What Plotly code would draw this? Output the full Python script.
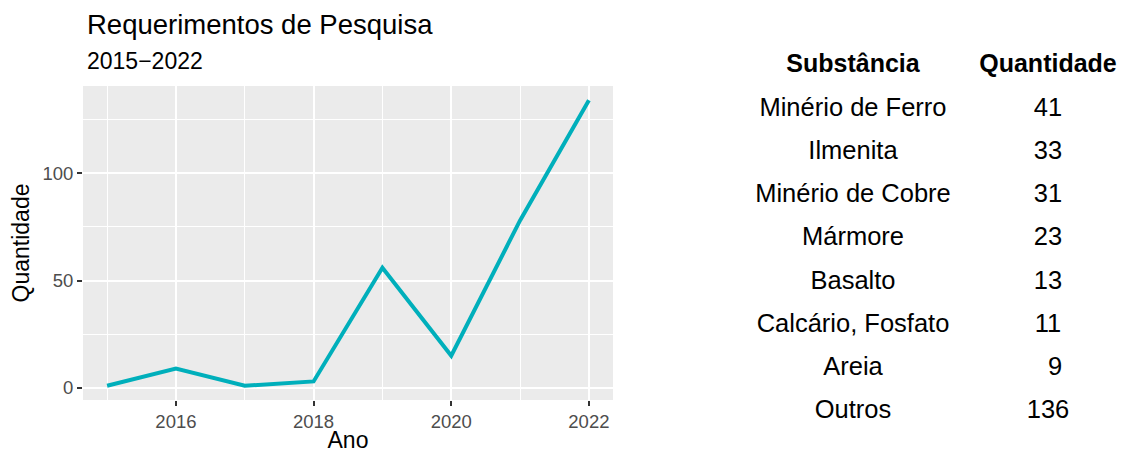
import plotly.graph_objects as go

# Requerimentos por ano
anos = [2015, 2016, 2017, 2018, 2019, 2020, 2021, 2022]
quantidade = [1, 9, 1, 3, 56, 15, 78, 134]

# Tabela por substância
substancias = ["Minério de Ferro", "Ilmenita", "Minério de Cobre", "Mármore",
               "Basalto", "Calcário, Fosfato", "Areia", "Outros"]
qtd_substancia = [41, 33, 31, 23, 13, 11, 9, 136]
cabecalho = ["Substância", "Quantidade"]

font = "Liberation Sans, Arial, sans-serif"
line_color = "#00AFBB"
W, H = 1122, 453

fig = go.Figure()

fig.add_trace(go.Scatter(
    x=anos, y=quantidade, mode="lines",
    line=dict(color=line_color, width=4),
    showlegend=False, hoverinfo="x+y",
))

# table as text on its own (hidden) axes
rows = [-(i + 1) for i in range(len(substancias))]
table_font = dict(size=25.5, color="black", family=font)
fig.add_trace(go.Scatter(
    x=[0] * len(substancias), y=rows, mode="text",
    text=substancias, textposition="middle center", textfont=table_font,
    xaxis="x2", yaxis="y2", showlegend=False, hoverinfo="skip",
))
fig.add_trace(go.Scatter(
    x=[1] * len(qtd_substancia), y=rows, mode="text",
    text=[str(q).rjust(2, "\u2007") for q in qtd_substancia],
    textposition="middle center", textfont=table_font,
    xaxis="x2", yaxis="y2", showlegend=False, hoverinfo="skip",
))
fig.add_trace(go.Scatter(
    x=[0, 1], y=[0, 0], mode="text",
    text=["<b>%s</b>" % h for h in cabecalho],
    textposition="middle center", textfont=dict(size=25, color="black", family=font),
    xaxis="x2", yaxis="y2", showlegend=False, hoverinfo="skip",
))

axis_common = dict(
    ticks="outside", ticklen=5, tickwidth=1.5, tickcolor="#333333",
    tickfont=dict(size=18.5, color="#4D4D4D"),
    showgrid=True, gridcolor="white", gridwidth=1.8,
    zeroline=False, showline=False, automargin=False,
)

fig.update_layout(
    width=W, height=H,
    margin=dict(l=0, r=0, t=0, b=0),
    paper_bgcolor="white",
    plot_bgcolor="white",
    font=dict(family=font, color="black"),
    xaxis=dict(
        domain=[83 / W, 613 / W],
        range=[2014.65, 2022.35],
        tick0=2016, dtick=2,
        minor=dict(tick0=2015, dtick=1, showgrid=True, gridcolor="white", gridwidth=0.9),
        title=dict(text="Ano", font=dict(size=23), standoff=4),
        **axis_common,
    ),
    yaxis=dict(
        domain=[(H - 400) / H, (H - 86) / H],
        range=[-5.65, 140.65],
        tick0=0, dtick=50,
        minor=dict(tick0=25, dtick=50, showgrid=True, gridcolor="white", gridwidth=0.9),
        title=dict(text="Quantidade", font=dict(size=23), standoff=6),
        **axis_common,
    ),
    xaxis2=dict(domain=[700 / W, 1], range=[-0.7846, 1.3795],
                visible=False, anchor="y2"),
    yaxis2=dict(domain=[0, 1], range=[-8.948, 1.526], visible=False, anchor="x2"),
    shapes=[dict(type="rect", xref="x domain", yref="y domain",
                 x0=0, x1=1, y0=0, y1=1, fillcolor="#EBEBEB",
                 line=dict(width=0), layer="below")],
    annotations=[
        dict(text="Requerimentos de Pesquisa", xref="paper", yref="paper",
             x=85 / W, y=(H - 25) / H, xanchor="left", yanchor="middle",
             showarrow=False, font=dict(size=27.5, color="black")),
        dict(text="2015\u22122022", xref="paper", yref="paper",
             x=85 / W, y=(H - 61) / H, xanchor="left", yanchor="middle",
             showarrow=False, font=dict(size=23, color="black")),
    ],
)

# page body has a default 8px margin; drop it so the figure fills the window
fig.write_html("out.html", config={"displayModeBar": False},
               post_script="document.body.style.margin='0';")
